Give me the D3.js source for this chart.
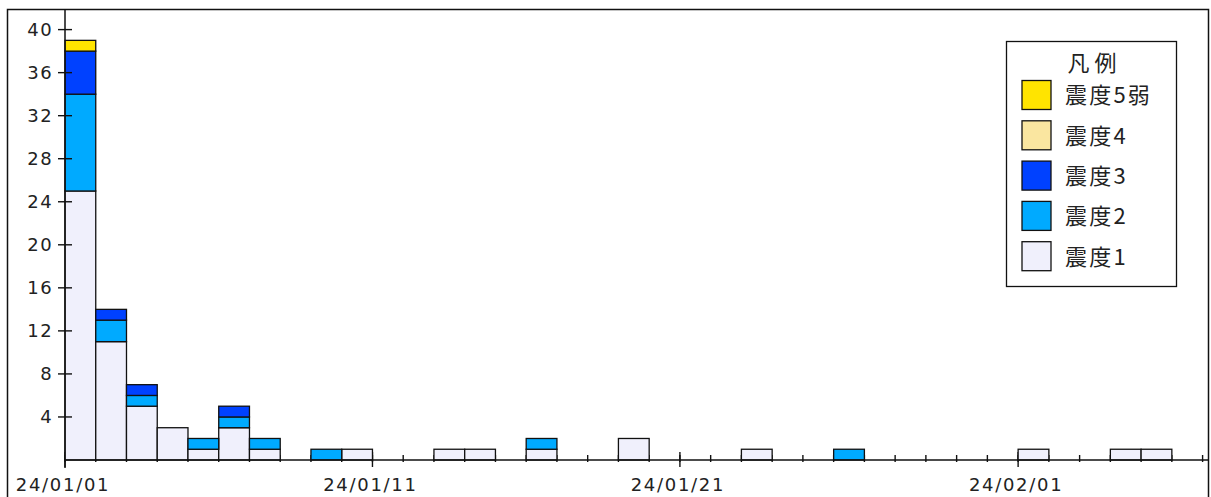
<!DOCTYPE html>
<html><head><meta charset="utf-8">
<script src="https://cdn.jsdelivr.net/npm/d3@7"></script>
<style>html,body{margin:0;padding:0;background:#fff;}svg{display:block;}</style>
</head><body>
<svg id="chart" width="1211" height="497"></svg>
<script>
// ---- data ----
const dates = ["2024-01-01","2024-01-02","2024-01-03","2024-01-04","2024-01-05","2024-01-06","2024-01-07","2024-01-09","2024-01-10","2024-01-13","2024-01-14","2024-01-16","2024-01-19","2024-01-23","2024-01-26","2024-02-01","2024-02-04","2024-02-05"];
const shindo1  = [25,11,5,3,1,3,1,0,1,1,1,1,2,1,0,1,1,1];
const shindo2  = [ 9, 2,1,0,1,1,1,1,0,0,0,1,0,0,1,0,0,0];
const shindo3  = [ 4, 1,1,0,0,1,0,0,0,0,0,0,0,0,0,0,0,0];
const shindo4  = [ 0, 0,0,0,0,0,0,0,0,0,0,0,0,0,0,0,0,0];
const shindo5L = [ 1, 0,0,0,0,0,0,0,0,0,0,0,0,0,0,0,0,0];
const seriesNames = ["震度1","震度2","震度3","震度4","震度5弱"];
const seriesColors = ["#F0F0FC","#00AAFF","#0041FF","#FAE6A0","#FFE400"];
const xTickLabels = ["24/01/01","24/01/11","24/01/21","24/02/01"];
const xTickDates = ["2024-01-01","2024-01-11","2024-01-21","2024-02-01"];
const yTicks = [4,8,12,16,20,24,28,32,36,40];
const legendTitle = "凡 例";

// ---- layout ----
const svg = d3.select("#chart");
const parse = d3.utcParse("%Y-%m-%d");
const x0 = 65, x1 = 1209, yBase = 460, yTop = 29.6;
const x = d3.scaleUtc()
  .domain([parse("2024-01-01"), d3.utcHour.offset(parse("2024-02-07"), 5)])
  .range([x0, x1]);
const y = d3.scaleLinear().domain([0, 40]).range([yBase, yTop]);

const table = dates.map((d, i) => ({
  date: parse(d),
  "震度1": shindo1[i], "震度2": shindo2[i], "震度3": shindo3[i], "震度4": shindo4[i], "震度5弱": shindo5L[i]
}));
const stack = d3.stack().keys(seriesNames)(table);
const color = d3.scaleOrdinal().domain(seriesNames).range(seriesColors);

const axisFont = "'DejaVu Sans', sans-serif";
const jpFont = "'Noto Sans CJK JP', sans-serif";

// outer frame
svg.append("rect").attr("x", 7.5).attr("y", 9.5).attr("width", 1201).attr("height", 520)
  .attr("fill", "none").attr("stroke", "#111").attr("stroke-width", 1.5);

// minor day ticks
const allDays = d3.utcDay.range(parse("2024-01-01"), parse("2024-02-08"));
svg.append("g").selectAll("line").data(allDays).join("line")
  .attr("x1", d => x(d)).attr("x2", d => x(d))
  .attr("y1", yBase - 5).attr("y2", yBase + 2)
  .attr("stroke", "#111").attr("stroke-width", 1.4);

// major ticks
svg.append("g").selectAll("line").data(xTickDates).join("line")
  .attr("x1", d => x(parse(d))).attr("x2", d => x(parse(d)))
  .attr("y1", yBase - 8).attr("y2", yBase + 7)
  .attr("stroke", "#111").attr("stroke-width", 1.4);

// bars
const barG = svg.append("g");
stack.forEach(layer => {
  barG.append("g").selectAll("rect")
    .data(layer.filter(d => d[1] - d[0] > 0))
    .join("rect")
    .attr("x", d => x(d.data.date))
    .attr("width", d => x(d3.utcDay.offset(d.data.date, 1)) - x(d.data.date))
    .attr("y", d => y(d[1]))
    .attr("height", d => y(d[0]) - y(d[1]))
    .attr("fill", color(layer.key))
    .attr("stroke", "#111").attr("stroke-width", 1.3);
});

// x axis line
svg.append("line").attr("x1", x0).attr("x2", x1).attr("y1", yBase).attr("y2", yBase)
  .attr("stroke", "#111").attr("stroke-width", 1.5);
// y axis line
svg.append("line").attr("x1", x0).attr("x2", x0).attr("y1", 9).attr("y2", yBase + 8)
  .attr("stroke", "#111").attr("stroke-width", 1.5);

// y ticks + labels
const yg = svg.append("g");
yg.selectAll("line").data(yTicks).join("line")
  .attr("x1", x0 - 7).attr("x2", x0 + 7)
  .attr("y1", d => y(d)).attr("y2", d => y(d))
  .attr("stroke", "#111").attr("stroke-width", 1.4);
yg.selectAll("text").data(yTicks).join("text")
  .attr("x", 53.5).attr("y", d => y(d)).attr("dy", "0.36em")
  .attr("text-anchor", "end")
  .attr("font-family", axisFont).attr("font-size", 18).attr("letter-spacing", 1.7)
  .attr("fill", "#222")
  .text(d => d);

// x labels
svg.append("g").selectAll("text").data(xTickDates).join("text")
  .attr("x", d => x(parse(d)) - 2).attr("y", 491)
  .attr("text-anchor", "middle")
  .attr("font-family", axisFont).attr("font-size", 18).attr("letter-spacing", 1.7)
  .attr("fill", "#222")
  .text((d, i) => xTickLabels[i]);

// legend
const lg = svg.append("g");
lg.append("rect").attr("x", 1006.5).attr("y", 41.5).attr("width", 170).attr("height", 245)
  .attr("fill", "#fff").attr("stroke", "#111").attr("stroke-width", 1.3);
lg.append("text").attr("x", 1092).attr("y", 71).attr("text-anchor", "middle")
  .attr("font-family", jpFont).attr("font-size", 22).attr("fill", "#222")
  .text(legendTitle);
const legendOrder = seriesNames.slice().reverse();
const items = lg.selectAll("g.item").data(legendOrder).join("g").attr("class", "item")
  .attr("transform", (d, i) => `translate(1022, ${80.5 + i * 40.3})`);
items.append("rect").attr("width", 29).attr("height", 29)
  .attr("fill", d => color(d)).attr("stroke", "#111").attr("stroke-width", 1.3);
items.append("text").attr("x", 43).attr("y", 15).attr("dy", "0.36em")
  .attr("font-family", jpFont).attr("font-size", 22).attr("letter-spacing", 2.2)
  .attr("fill", "#222")
  .text(d => d);
</script>
</body></html>
